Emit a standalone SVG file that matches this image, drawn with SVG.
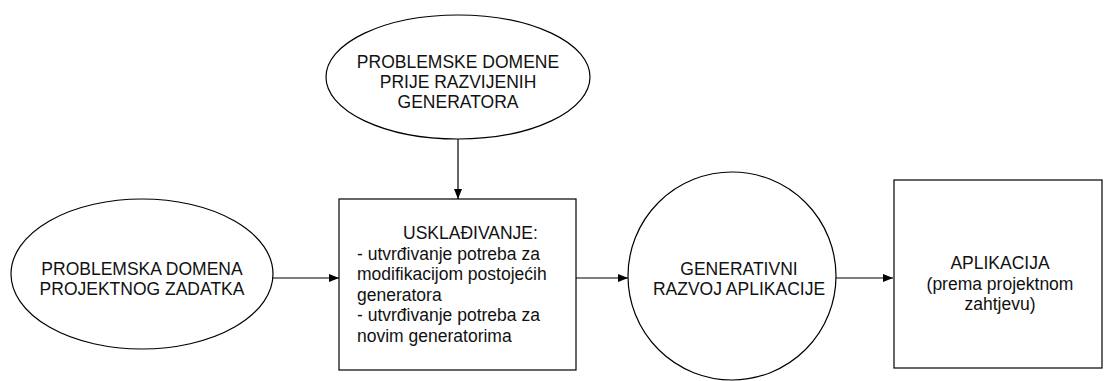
<svg xmlns="http://www.w3.org/2000/svg" width="1104" height="381" viewBox="0 0 1104 381">
<style>
.shape{fill:#fff;stroke:#000;stroke-width:1.2}
.t{font-family:"Liberation Sans",Arial,sans-serif;font-size:17.5px;fill:#111}
.c{text-anchor:middle}
.edge{stroke:#000;stroke-width:1.2;fill:none;marker-end:url(#ah)}
</style>
<defs>
<marker id="ah" viewBox="0 0 10 8" refX="10" refY="4" markerWidth="10" markerHeight="8" markerUnits="userSpaceOnUse" orient="auto">
<path d="M0,0 L10,4 L0,8 Z" fill="#000"/>
</marker>
</defs>
<rect width="1104" height="381" fill="#fff"/>
<g id="connectors">
<line class="edge" x1="458" y1="139" x2="458" y2="199"/>
<line class="edge" x1="273" y1="278" x2="339" y2="278"/>
<line class="edge" x1="576" y1="278" x2="628" y2="278"/>
<line class="edge" x1="836" y1="278" x2="893" y2="278"/>
</g>
<g id="node-domena-zadatka">
<ellipse class="shape" cx="142" cy="274" rx="131" ry="75"/>
<text class="t c" x="142" y="275">PROBLEMSKA DOMENA</text>
<text class="t c" x="142" y="295">PROJEKTNOG ZADATKA</text>
</g>
<g id="node-domene-generatora">
<ellipse class="shape" cx="458" cy="77" rx="132" ry="62"/>
<text class="t c" x="458" y="68">PROBLEMSKE DOMENE</text>
<text class="t c" x="458" y="88">PRIJE RAZVIJENIH</text>
<text class="t c" x="458" y="108">GENERATORA</text>
</g>
<g id="node-uskladivanje">
<rect class="shape" x="339" y="199" width="237" height="171"/>
<text class="t" x="403" y="239">USKLAĐIVANJE:</text>
<text class="t" x="357" y="259.5">- utvrđivanje potreba za</text>
<text class="t" x="357" y="280">modifikacijom postojećih</text>
<text class="t" x="357" y="300.5">generatora</text>
<text class="t" x="357" y="321">- utvrđivanje potreba za</text>
<text class="t" x="357" y="341.5">novim generatorima</text>
</g>
<g id="node-generativni">
<circle class="shape" cx="732" cy="276" r="104"/>
<text class="t c" x="739" y="275">GENERATIVNI</text>
<text class="t c" x="739" y="295">RAZVOJ APLIKACIJE</text>
</g>
<g id="node-aplikacija">
<rect class="shape" x="894" y="180" width="208" height="188"/>
<text class="t c" x="1000" y="269">APLIKACIJA</text>
<text class="t c" x="1000" y="289.5">(prema projektnom</text>
<text class="t c" x="1000" y="310">zahtjevu)</text>
</g>
</svg>
